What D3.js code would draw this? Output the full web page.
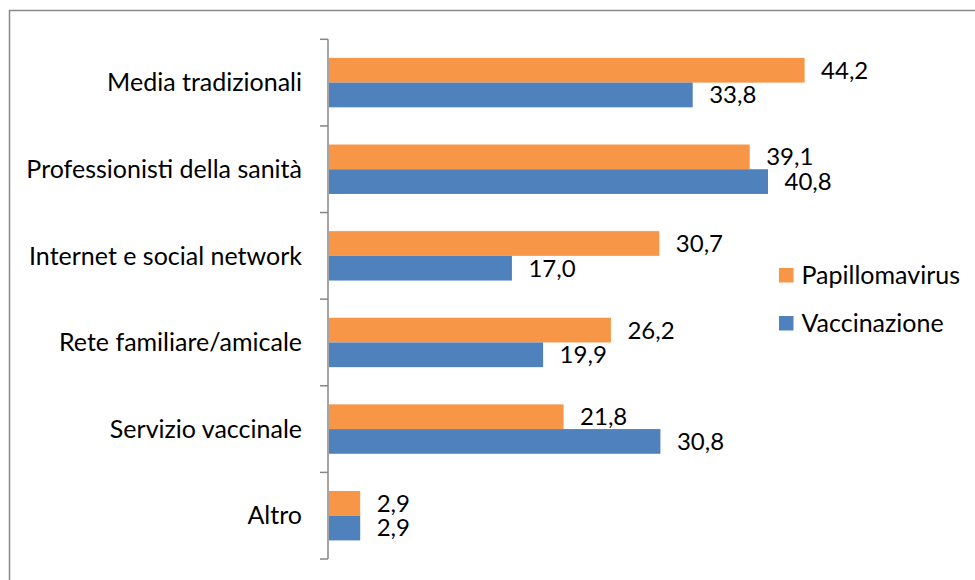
<!DOCTYPE html>
<html>
<head>
<meta charset="utf-8">
<script src="https://cdn.jsdelivr.net/npm/d3@7"></script>
<style>
  html, body { margin: 0; padding: 0; background: #fff; }
  svg { display: block; }
  text { font-family: Lato, "Open Sans", sans-serif; fill: #000; }
</style>
</head>
<body>
<svg id="chart" width="975" height="580"></svg>
<script>
const categories = ["Media tradizionali", "Professionisti della sanità", "Internet e social network", "Rete familiare/amicale", "Servizio vaccinale", "Altro"];
const seriesNames = ["Papillomavirus", "Vaccinazione"];
const papillomavirus = [44.2, 39.1, 30.7, 26.2, 21.8, 2.9];
const vaccinazione = [33.8, 40.8, 17.0, 19.9, 30.8, 2.9];
const colors = ["#F79646", "#4F81BD"];

const svg = d3.select("#chart");
const W = 975, H = 580;
const labelSize = 25;
const valueSize = 24;

// chart border
svg.append("rect")
  .attr("x", 9.5).attr("y", 10.5)
  .attr("width", W).attr("height", H)
  .attr("fill", "none").attr("stroke", "#898989").attr("stroke-width", 1.5);

const x = d3.scaleLinear().domain([0, 50]).range([329, 867]);
const y = d3.scaleBand().domain(categories).range([39.3, 559]).paddingInner(0).paddingOuter(0);
const ySub = d3.scaleBand().domain(seriesNames).range([0, y.bandwidth()]).paddingInner(0).paddingOuter(0.753);

const locale = d3.formatLocale({decimal: ",", thousands: ".", grouping: [3], currency: ["", "€"]});
const fmt = locale.format(".1f");

const data = seriesNames.map((s, i) => ({
  name: s,
  color: colors[i],
  values: categories.map((c, j) => ({cat: c, v: (i === 0 ? papillomavirus : vaccinazione)[j]}))
}));

// bars
data.forEach(s => {
  const g = svg.append("g");
  g.selectAll("rect").data(s.values).join("rect")
    .attr("x", x(0))
    .attr("y", d => y(d.cat) + ySub(s.name))
    .attr("width", d => x(d.v) - x(0))
    .attr("height", ySub.bandwidth())
    .attr("fill", s.color);
  g.selectAll("text").data(s.values).join("text")
    .attr("x", d => x(d.v) + 16.5)
    .attr("y", d => y(d.cat) + ySub(s.name) + ySub.bandwidth() / 2)
    .attr("dy", "0.35em")
    .attr("font-size", valueSize)
    .text(d => fmt(d.v));
});

// axis
const axis = d3.axisLeft(y).tickSize(0).tickPadding(0).tickFormat("");
const ax = svg.append("g").attr("transform", "translate(328,0)").call(axis);
ax.select(".domain").remove();
ax.append("line").attr("x1", 0).attr("x2", 0).attr("y1", 39.3).attr("y2", 559)
  .attr("stroke", "#868686").attr("stroke-width", 1.5);
// boundary ticks
const bounds = categories.map(c => y(c)).concat([y.range()[1]]);
ax.selectAll("line.bt").data(bounds).join("line").attr("class", "bt")
  .attr("x1", -8).attr("x2", 0).attr("y1", d => d).attr("y2", d => d)
  .attr("stroke", "#868686").attr("stroke-width", 1.5);

// category labels
svg.append("g").selectAll("text").data(categories).join("text")
  .attr("x", 302)
  .attr("y", d => y(d) + y.bandwidth() / 2)
  .attr("dy", "0.35em")
  .attr("text-anchor", "end")
  .attr("font-size", labelSize)
  .text(d => d);

// legend
const leg = svg.append("g").attr("transform", "translate(779,0)");
const legY = [275, 323];
data.forEach((s, i) => {
  leg.append("rect").attr("x", 0).attr("y", legY[i] - 7).attr("width", 14.5).attr("height", 14.5).attr("fill", s.color);
  leg.append("text").attr("x", 22.5).attr("y", legY[i]).attr("dy", "0.35em")
    .attr("font-size", labelSize).text(s.name);
});
</script>
</body>
</html>
